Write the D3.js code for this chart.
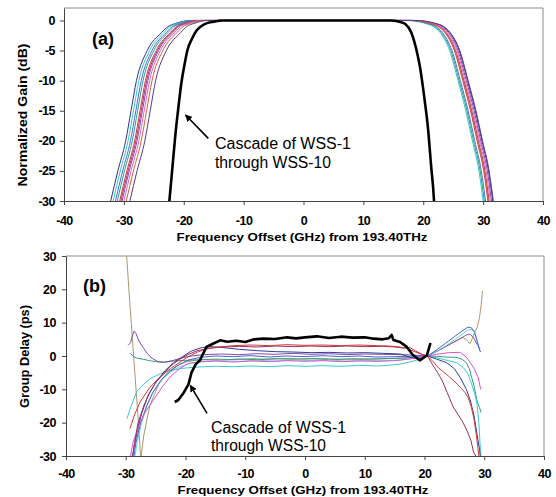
<!DOCTYPE html>
<html>
<head>
<meta charset="utf-8">
<script src="https://cdn.jsdelivr.net/npm/d3@7"></script>
<style>
  body { margin: 0; background: #fff; }
  svg text { font-family: "Liberation Sans", Arial, sans-serif; fill: #000; }
</style>
</head>
<body>
<svg id="chart" width="556" height="497"></svg>
<script>
// ---- data ----
const freqTicks = [-40, -30, -20, -10, 0, 10, 20, 30, 40];
const gainTicks = [0, -5, -10, -15, -20, -25, -30];
const delayTicks = [30, 20, 10, 0, -10, -20, -30];

const seriesColors = ['#2e3192', '#33c6cc', '#4a6fd0', '#2a9d8f', '#d0343c',
                      '#b0306a', '#8a4aa8', '#e860c0', '#c8693a', '#5a3a8a'];

// gain levels (dB) the left / right edges were read at
const gainLevelsLeft = [-30, -25, -20, -15, -10, -5, -2, -1, -0.5, 0];
const gainLevelsRight = [0, -0.5, -1, -2, -5, -10, -15, -20, -25, -30];

// frequency (GHz) of each WSS at those levels
const gainLeft = [
  [-32.2, -31.0, -29.7, -28.8, -27.9, -26.1, -23.7, -22.6, -21.4, -18.8],
  [-31.8, -30.6, -29.3, -28.4, -27.5, -25.7, -23.3, -22.3, -21.1, -18.5],
  [-31.4, -30.2, -28.9, -28.0, -27.1, -25.3, -22.9, -21.9, -20.7, -18.2],
  [-31.1, -29.9, -28.6, -27.7, -26.8, -25.0, -22.6, -21.6, -20.4, -17.9],
  [-30.7, -29.5, -28.2, -27.3, -26.4, -24.6, -22.2, -21.2, -20.0, -17.5],
  [-30.5, -29.3, -28.0, -27.1, -26.2, -24.4, -22.0, -21.0, -19.8, -17.3],
  [-30.3, -29.1, -27.8, -26.9, -26.0, -24.2, -21.8, -20.8, -19.6, -17.1],
  [-30.0, -28.8, -27.5, -26.6, -25.7, -23.9, -21.5, -20.5, -19.3, -16.9],
  [-29.6, -28.4, -27.1, -26.2, -25.3, -23.5, -21.1, -20.1, -18.9, -16.5],
  [-29.0, -27.8, -26.5, -25.6, -24.7, -22.9, -20.5, -19.5, -18.3, -16.0]
];
const gainRight = [
  [18.6, 21.9, 23.3, 24.4, 26.0, 27.4, 28.7, 29.8, 30.9, 31.6],
  [17.4, 20.4, 21.7, 22.8, 24.4, 25.8, 27.1, 28.2, 29.3, 30.0],
  [17.7, 20.8, 22.1, 23.2, 24.8, 26.2, 27.5, 28.6, 29.7, 30.4],
  [17.5, 20.6, 21.9, 23.0, 24.6, 26.0, 27.3, 28.4, 29.5, 30.2],
  [18.0, 21.2, 22.5, 23.6, 25.2, 26.6, 27.9, 29.0, 30.1, 30.8],
  [18.1, 21.4, 22.7, 23.8, 25.4, 26.8, 28.1, 29.2, 30.3, 31.0],
  [18.4, 21.8, 23.1, 24.2, 25.8, 27.2, 28.5, 29.6, 30.7, 31.4],
  [18.3, 21.6, 22.9, 24.0, 25.6, 27.0, 28.3, 29.4, 30.5, 31.2],
  [18.0, 21.3, 22.6, 23.7, 25.3, 26.7, 28.0, 29.1, 30.2, 30.9],
  [18.7, 22.1, 23.4, 24.5, 26.1, 27.5, 28.8, 29.9, 31.0, 31.7]
];

const cascadeGain = [[-22.6, -32], [-22.4, -30], [-21.9, -24.5], [-21.4, -19], [-20.9, -14.5],
  [-20.4, -10.4], [-19.9, -7.5], [-19.4, -5], [-18.6, -3], [-17.8, -1.6], [-16.5, -0.6],
  [-15, -0.2], [-13.5, 0], [0, 0], [14.5, 0], [16, -0.2], [17, -0.6], [18, -2], [19, -5.5],
  [19.5, -8], [20.2, -13], [20.8, -18], [21.3, -24], [21.8, -30], [21.9, -32]];

// group delay (GHz, ps)
const delayNavy = [[-29.0, -32], [-28.6, -27], [-28, -22], [-27.3, -17], [-26.3, -12], [-25, -8],
  [-23.5, -4.5], [-22, -2], [-20.5, -0.2], [-19, 1.5], [-17.5, 2.4], [-16, 2.8], [-14, 2.6],
  [-11, 2.0], [-8, 1.6], [-5, 1.3], [-2, 1.2], [1, 1.0], [4, 1.1], [7, 0.9], [10, 1.0], [13, 0.8],
  [16, 0.6], [18, -0.6], [19.3, -0.9], [20.5, 0], [22, -0.9], [23.7, -2], [25, -3.8], [26, -6.5],
  [27, -10], [27.7, -13.5], [28.3, -18], [28.8, -23.5], [29.2, -28], [29.4, -31]];
const delayCyan = [[-29.8, -18.8], [-29.2, -15.5], [-28.2, -10.8], [-27, -8.5], [-25.9, -6.8],
  [-24.2, -5.3], [-22.6, -4.3], [-20.5, -3.7], [-18, -3.3], [-15, -3.1], [-12, -3.2], [-9, -3.0],
  [-6, -3.2], [-3, -2.9], [0, -3.1], [3, -2.9], [6, -3.1], [9, -2.8], [12, -3.0], [14, -2.8],
  [16, -2.4], [18, -1.6], [19.5, -0.8], [20.5, 0], [22, -0.5], [23.5, -1.2], [25.4, -2],
  [26.5, -3.5], [27.3, -5.5], [28, -9], [28.5, -12], [28.8, -14.5], [29.1, -20], [29.3, -26.5],
  [29.5, -31]];
const delayBlue = [[-28.8, -32], [-28.3, -26], [-27.5, -20], [-26.5, -15], [-25.5, -11], [-24, -7],
  [-22.5, -4.5], [-21, -2.5], [-19.5, -1.2], [-17.5, -0.4], [-15, 0], [-12, -0.2], [-9, 0.1],
  [-6, -0.3], [-3, 0], [0, -0.2], [3, 0.1], [6, -0.2], [9, 0], [12, -0.3], [15, -0.2], [17, -0.1],
  [18.5, 0], [20.5, 0], [22, 1.8], [23.5, 3.8], [25, 5.8], [26.3, 7.5], [27.3, 8.7], [27.9, 8.4],
  [28.4, 7], [28.9, 4], [29.2, 1.8], [29.4, 1.2]];
const delayTeal = [[-29.2, 0.8], [-28.9, 0.2], [-28.6, -0.3], [-28, -0.7], [-27, -1], [-26, -1.4],
  [-25, -1.7], [-23.5, -1.8], [-22, -1.5], [-20, -1.3], [-17, -1.1], [-14, -1.2], [-11, -0.9],
  [-8, -1.1], [-5, -0.8], [-2, -1.0], [1, -0.8], [4, -1.1], [7, -0.9], [10, -1.0], [13, -0.8],
  [16, -0.7], [18.5, -0.4], [20.5, 0], [22, -0.1], [23.5, -0.3], [25, -0.4], [25.6, -0.5],
  [26.3, -1], [27, -2], [27.5, -3.8], [27.9, -6.5], [28.3, -9], [28.8, -13.5], [29.2, -15.5],
  [29.5, -17]];
const delayRed = [[-29.3, -21.8], [-28.5, -17.5], [-27.6, -13.8], [-26, -9.5], [-24.3, -6.3],
  [-22.5, -3.8], [-20.9, -1.8], [-19.5, -0.2], [-18, 1.2], [-16.5, 2.1], [-15, 2.6], [-12, 3.1],
  [-9, 3.3], [-6, 3.1], [-3, 3.4], [0, 3.2], [3, 3.3], [6, 3.1], [9, 3.3], [12, 3.1], [14, 3.0],
  [15.5, 2.8], [17, 2.3], [18.5, 1.2], [19.5, 0.5], [20.5, 0], [21.5, -1.8], [22.3, -3.5],
  [23.2, -4.8], [24, -6], [24.8, -7.2], [25.5, -8.5], [26.2, -9.8], [26.8, -11], [27.3, -12.5],
  [27.8, -15], [28.3, -19], [28.7, -24], [29.1, -30], [29.3, -33]];
const delayMaroon = [[-29.0, -32], [-28.5, -26], [-28, -20.5], [-27, -15], [-26, -11], [-25, -8],
  [-23.5, -5], [-22.5, -3], [-21, -1], [-19.5, 0.5], [-18, 1.6], [-16, 2.3], [-14, 2.7],
  [-11, 2.9], [-8, 2.7], [-5, 3.0], [-2, 2.8], [1, 3.0], [4, 2.8], [7, 3.0], [10, 2.8], [13, 2.9],
  [15, 2.7], [16.5, 2.4], [17.5, 2.6], [18.5, 1.5], [19.5, 0.6], [20.5, 0], [21.3, -2.5],
  [22.3, -5.3], [23, -7.5], [23.8, -11], [24.8, -15.3], [25.6, -17.5], [26.3, -19.5],
  [27.1, -22.3], [27.8, -25.5], [28.2, -28.8], [28.5, -29.6], [28.8, -32]];
const delayPurple = [[-29.6, 3.2], [-29.2, 4], [-28.9, 6], [-28.6, 7.5], [-28.3, 6.8], [-27.8, 4.5],
  [-27, 2.3], [-26.3, 0.5], [-25.5, -0.8], [-24.5, -1.8], [-23.5, -1.9], [-22, -1.3],
  [-20.5, -0.5], [-19, 0], [-17, 0.4], [-14, 0.6], [-11, 0.4], [-8, 0.7], [-5, 0.5], [-2, 0.8],
  [1, 0.5], [4, 0.7], [7, 0.4], [10, 0.6], [13, 0.5], [16, 0.4], [18, 0.3], [20.5, 0],
  [22.5, 1.8], [24.5, 3.8], [26, 5.2], [27, 6.3], [27.6, 6.6], [28.2, 5.5], [28.8, 3.5],
  [29.3, 2.2]];
const delayPink = [[-29.4, -32], [-28.8, -26], [-27.9, -21.3], [-26.8, -17], [-25.4, -13.3],
  [-24, -9.5], [-22.6, -6.3], [-21, -3.8], [-19.5, -2.2], [-17.5, -1.7], [-15, -1.5], [-12, -1.8],
  [-9, -1.5], [-6, -1.7], [-3, -1.4], [0, -1.6], [3, -1.4], [6, -1.7], [9, -1.5], [12, -1.6],
  [15, -1.4], [17.5, -0.9], [20.5, 0], [22, 0.5], [24, 1], [26, 1.1], [26.8, 0], [27.7, -2],
  [28.3, -3.8], [29, -6.5], [29.4, -10]];
const delayLightCyan = [[-28.6, -32], [-28.1, -26], [-27.4, -20.5], [-26.5, -15], [-25.3, -10.5],
  [-24, -7.3], [-22.5, -4.8], [-21, -3.2], [-19, -2.2], [-17, -1.7], [-14, -1.4], [-11, -1.6],
  [-8, -1.3], [-5, -1.5], [-2, -1.2], [1, -1.4], [4, -1.2], [7, -1.5], [10, -1.3], [13, -1.4],
  [16, -1.2], [18.5, -0.6], [20.5, 0], [22, 1.4], [23.5, 3], [25, 4.8], [26.3, 6.5], [27.2, 7.8],
  [27.8, 8], [28.3, 7.4], [28.8, 4.5], [29.1, 2.5], [29.3, 1.5]];
const delayTan = [[-30.0, 34], [-29.4, 18], [-29, 8], [-28.6, -2], [-28.2, -12], [-27.8, -22],
  [-27.5, -31], [-27, -24], [-26, -15], [-24.5, -8.5], [-23, -5], [-21.5, -3], [-20, -1.8],
  [-18, -1.2], [-15, -0.9], [-12, -1.1], [-9, -0.8], [-6, -1.0], [-3, -0.7], [0, -0.9], [3, -0.7],
  [6, -1.0], [9, -0.8], [12, -0.9], [15, -0.7], [18, -0.4], [20.5, 0], [22, 1.3], [23.5, 2.8],
  [25, 4.2], [26.3, 5.6], [27.0, 5.0], [27.6, 3.7], [28.0, 5.2], [28.3, 6.7], [28.8, 8.5],
  [29.2, 11.5], [29.5, 15.5], [29.7, 19.5]];

const cascadeDelay = [[-21.8, -13.8], [-21.2, -13.2], [-20.3, -11], [-19.5, -8.5], [-19, -5],
  [-18.3, -2.5], [-17.6, -1.3], [-16.5, 2.7], [-15.5, 3.6], [-14.2, 4.7], [-13, 4.3],
  [-11.5, 4.6], [-10, 4.2], [-8.5, 5], [-7, 5.2], [-5, 5.1], [-3, 5.6], [-1.5, 5.3], [0, 5.6],
  [2, 5.9], [4, 5.4], [6, 5.8], [8, 5.5], [10, 5.6], [11.5, 5.2], [13, 5.0], [14, 5.3],
  [14.5, 6.3], [14.8, 4.8], [15.9, 4.2], [17, 2.8], [18.1, 0.2], [19.2, -1.3], [20.4, 0.2],
  [21.0, 3.9]];

const delaySeries = [
  { name: 'tan', color: '#a89a6c', values: delayTan },
  { name: 'teal', color: '#2f9a84', values: delayTeal },
  { name: 'purple', color: '#8a4aa8', values: delayPurple },
  { name: 'lightcyan', color: '#6fd6e0', values: delayLightCyan },
  { name: 'cyan', color: '#3cc8d0', values: delayCyan },
  { name: 'blue', color: '#4466cc', values: delayBlue },
  { name: 'navy', color: '#333a96', values: delayNavy },
  { name: 'pink', color: '#e050c8', values: delayPink },
  { name: 'maroon', color: '#9c2f5f', values: delayMaroon },
  { name: 'red', color: '#d03a3a', values: delayRed }
];

// annotation arrows: [tail, tip] in data units
const gainArrow = [[-15.9, -19.6], [-19.7, -15.7]];
const delayArrow = [[-16.4, -17.2], [-19.2, -8.8]];

// ---- drawing ----
const svg = d3.select('#chart');
const fmt = d => String(d);

function drawPanel(cfg) {
  const x = d3.scaleLinear().domain([-40, 40]).range([cfg.left, cfg.right]);
  const y = d3.scaleLinear().domain(cfg.yDomain).range([cfg.bottom, cfg.top]);
  const g = svg.append('g');

  g.append('clipPath').attr('id', cfg.id + '-clip')
    .append('rect')
    .attr('x', cfg.left).attr('y', cfg.top)
    .attr('width', cfg.right - cfg.left).attr('height', cfg.bottom - cfg.top);

  // frame (top / right)
  g.append('path')
    .attr('d', `M${cfg.left},${cfg.top}H${cfg.right}V${cfg.bottom}`)
    .attr('fill', 'none').attr('stroke', '#8c8c8c').attr('stroke-width', 1);

  const xAxis = g.append('g')
    .attr('transform', `translate(0,${cfg.bottom})`)
    .call(d3.axisBottom(x).tickValues(freqTicks).tickFormat(fmt)
      .tickSize(4).tickPadding(cfg.xPad));
  const yAxis = g.append('g')
    .attr('transform', `translate(${cfg.left},0)`)
    .call(d3.axisLeft(y).tickValues(cfg.yTicks).tickFormat(fmt)
      .tickSize(4).tickSizeOuter(0).tickPadding(cfg.yPad));

  [xAxis, yAxis].forEach(a => {
    a.select('.domain').attr('stroke', '#444');
    a.selectAll('.tick line').attr('stroke', '#444');
    a.selectAll('text')
      .style('font-size', '12.5px').style('font-weight', 'bold')
      .style('letter-spacing', '-0.5px').attr('fill', '#000');
  });
  xAxis.selectAll('text').attr('dy', '0.71em');

  const plot = g.append('g').attr('clip-path', `url(#${cfg.id}-clip)`);
  return { x, y, g, plot };
}

function addText(g, s, x, y, opts) {
  const t = g.append('text').attr('x', x).attr('y', y).text(s)
    .style('font-size', opts.size + 'px')
    .style('font-weight', opts.bold ? 'bold' : 'normal');
  if (opts.anchor) t.attr('text-anchor', opts.anchor);
  if (opts.len) t.attr('textLength', opts.len).attr('lengthAdjust', 'spacingAndGlyphs');
  if (opts.rotate) t.attr('transform', `rotate(-90,${x},${y})`);
  return t;
}

svg.append('defs').append('marker')
  .attr('id', 'arrowhead').attr('viewBox', '0 0 10 10')
  .attr('refX', 9).attr('refY', 5)
  .attr('markerWidth', 7).attr('markerHeight', 7)
  .attr('markerUnits', 'userSpaceOnUse')
  .attr('orient', 'auto')
  .append('path').attr('d', 'M0,0L10,5L0,10z').attr('fill', '#000');

function drawArrow(p, pts) {
  p.g.append('line')
    .attr('x1', p.x(pts[0][0])).attr('y1', p.y(pts[0][1]))
    .attr('x2', p.x(pts[1][0])).attr('y2', p.y(pts[1][1]))
    .attr('stroke', '#000').attr('stroke-width', 1.6)
    .attr('marker-end', 'url(#arrowhead)');
}

// ---- panel (a): normalized gain ----
const pa = drawPanel({ id: 'pa', left: 64, right: 543, top: 8, bottom: 201,
  yDomain: [-30, 2.07], yTicks: gainTicks, yPad: 5, xPad: 11 });

const gainLine = d3.line().x(d => pa.x(d[0])).y(d => pa.y(d[1])).curve(d3.curveMonotoneX);

gainLeft.forEach((left, i) => {
  const pts = left.map((f, j) => [f, gainLevelsLeft[j]])
    .concat(gainRight[i].map((f, j) => [f, gainLevelsRight[j]]));
  pa.plot.append('path').datum(pts)
    .attr('d', gainLine)
    .attr('fill', 'none').attr('stroke', seriesColors[i]).attr('stroke-width', 1);
});
pa.plot.append('path').datum(cascadeGain)
  .attr('d', gainLine)
  .attr('fill', 'none').attr('stroke', '#000').attr('stroke-width', 2.6);

addText(svg, '(a)', 92, 45, { size: 18, bold: true });
addText(svg, 'Cascade of WSS-1', 215, 148.5, { size: 16, len: 136 });
addText(svg, 'through WSS-10', 215, 167.5, { size: 16, len: 116 });
drawArrow(pa, gainArrow);
addText(svg, 'Normalized Gain (dB)', 27, 115, { size: 13, bold: true, anchor: 'middle', len: 143, rotate: true });
addText(svg, 'Frequency Offset (GHz) from 193.40THz', 302, 241, { size: 11.5, bold: true, anchor: 'middle', len: 251 });

// ---- panel (b): group delay ----
const pb = drawPanel({ id: 'pb', left: 66, right: 544, top: 256, bottom: 456,
  yDomain: [-30, 30], yTicks: delayTicks, yPad: 6, xPad: 9.5 });

const delayLine = d3.line().x(d => pb.x(d[0])).y(d => pb.y(d[1]));

delaySeries.forEach(s => {
  pb.plot.append('path').datum(s.values)
    .attr('d', delayLine)
    .attr('fill', 'none').attr('stroke', s.color).attr('stroke-width', 1);
});
pb.plot.append('path').datum(cascadeDelay)
  .attr('d', delayLine)
  .attr('fill', 'none').attr('stroke', '#000').attr('stroke-width', 2.6)
  .attr('stroke-linejoin', 'round');

addText(svg, '(b)', 83, 292, { size: 18, bold: true });
addText(svg, 'Cascade of WSS-1', 211, 433, { size: 16, len: 135 });
addText(svg, 'through WSS-10', 211, 451, { size: 16, len: 115 });
drawArrow(pb, delayArrow);
addText(svg, 'Group Delay (ps)', 29, 356.5, { size: 13, bold: true, anchor: 'middle', len: 103, rotate: true });
addText(svg, 'Frequency Offset (GHz) from 193.40THz', 303, 493.5, { size: 11.5, bold: true, anchor: 'middle', len: 251 });
</script>
</body>
</html>
